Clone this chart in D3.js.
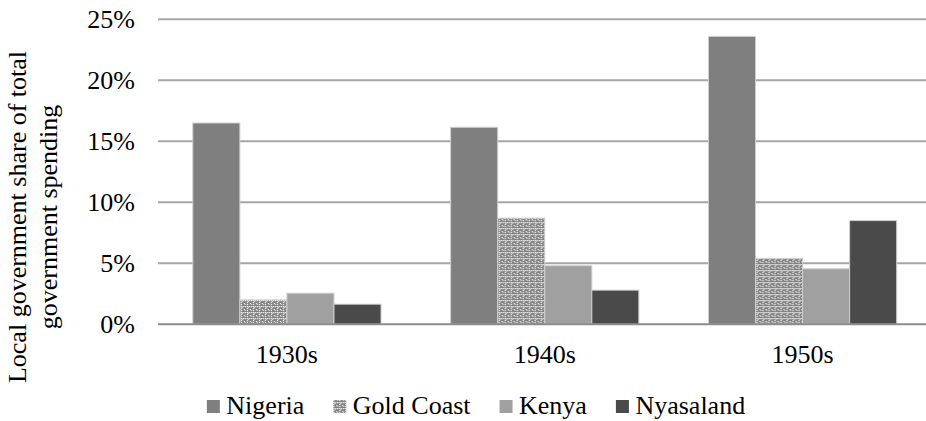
<!DOCTYPE html>
<html>
<head>
<meta charset="utf-8">
<script src="https://cdn.jsdelivr.net/npm/d3@7"></script>
<style>
  html, body { margin: 0; padding: 0; background: #fff; }
  svg { display: block; font-family: "Liberation Serif", "Times New Roman", serif; }
</style>
</head>
<body>
<div id="chart"></div>
<script>
// chart data
const decades = ["1930s", "1940s", "1950s"];
const seriesNames = ["Nigeria", "Gold Coast", "Kenya", "Nyasaland"];
const nigeria = [16.5, 16.15, 23.6];
const goldCoast = [2.0, 8.7, 5.4];
const kenya = [2.55, 4.8, 4.55];
const nyasaland = [1.65, 2.8, 8.5];
const yTicks = [0, 5, 10, 15, 20, 25];

const seriesValues = [nigeria, goldCoast, kenya, nyasaland];
const fills = ["#7f7f7f", "url(#gold-coast)", "#a0a0a0", "#4a4a4a"];

const width = 926;
const height = 421;
const plot = { left: 158, right: 931.5, top: 19.3, bottom: 324.3 };

const svg = d3.select("#chart")
  .append("svg")
  .attr("width", width)
  .attr("height", height);

// checkered texture for Gold Coast
const defs = svg.append("defs");
const pat = defs.append("pattern")
  .attr("id", "gold-coast")
  .attr("patternUnits", "userSpaceOnUse")
  .attr("width", 6)
  .attr("height", 6);
pat.append("rect").attr("width", 6).attr("height", 6).attr("fill", "#808080");
[[0, 0], [2, 0], [4, 0], [0, 2], [0, 4], [3, 3]].forEach(([px, py]) => {
  pat.append("rect")
    .attr("x", px).attr("y", py)
    .attr("width", 1.2).attr("height", 1.2)
    .attr("fill", "#ffffff");
});
pat.append("rect").attr("x", 1).attr("y", 1).attr("width", 1).attr("height", 1).attr("fill", "#d8d8d8");
pat.append("rect").attr("x", 4).attr("y", 4).attr("width", 1).attr("height", 1).attr("fill", "#d8d8d8");

const x0 = d3.scaleBand()
  .domain(decades)
  .range([plot.left, plot.right])
  .paddingInner(0.27)
  .paddingOuter(0.135);

const x1 = d3.scaleBand()
  .domain(seriesNames)
  .range([0, x0.bandwidth()]);

const y = d3.scaleLinear()
  .domain([0, 25])
  .range([plot.bottom, plot.top]);

// gridlines
svg.append("g")
  .selectAll("line")
  .data(yTicks.filter((d) => d > 0))
  .join("line")
  .attr("x1", plot.left)
  .attr("x2", plot.right)
  .attr("y1", (d) => y(d))
  .attr("y2", (d) => y(d))
  .attr("stroke", "#a6a6a6")
  .attr("stroke-width", 2);

// y tick labels
svg.append("g")
  .selectAll("text")
  .data(yTicks)
  .join("text")
  .attr("x", 135)
  .attr("y", (d) => y(d))
  .attr("dy", "0.33em")
  .attr("text-anchor", "end")
  .attr("font-size", 26)
  .attr("fill", "#000")
  .text((d) => d + "%");

// bars
const groups = svg.append("g")
  .selectAll("g")
  .data(decades)
  .join("g")
  .attr("transform", (d) => `translate(${x0(d)},0)`);

groups.selectAll("rect")
  .data((d, i) => seriesNames.map((name, s) => ({ name, s, value: seriesValues[s][i] })))
  .join("rect")
  .attr("x", (d) => x1(d.name))
  .attr("y", (d) => y(d.value))
  .attr("width", x1.bandwidth())
  .attr("height", (d) => y(0) - y(d.value))
  .attr("fill", (d) => fills[d.s])
  .attr("stroke", "#cfcfcf")
  .attr("stroke-width", 1);

// baseline
svg.append("line")
  .attr("x1", plot.left)
  .attr("x2", plot.right)
  .attr("y1", y(0))
  .attr("y2", y(0))
  .attr("stroke", "#8c8c8c")
  .attr("stroke-width", 2);

// x labels
svg.append("g")
  .selectAll("text")
  .data(decades)
  .join("text")
  .attr("x", (d) => x0(d) + x0.bandwidth() / 2)
  .attr("y", 363)
  .attr("text-anchor", "middle")
  .attr("font-size", 26)
  .attr("fill", "#000")
  .text((d) => d);

// y axis title, two lines
const title = svg.append("text")
  .attr("transform", "translate(26,217) rotate(-90)")
  .attr("text-anchor", "middle")
  .attr("font-size", 26)
  .attr("fill", "#000");
title.append("tspan").attr("x", 0).attr("y", 0).text("Local government share of total");
title.append("tspan").attr("x", 0).attr("y", 31).text("government spending");

// legend
const legend = svg.append("g");
const items = legend.selectAll("g")
  .data(seriesNames)
  .join("g");
items.append("rect")
  .attr("y", 400)
  .attr("width", 13)
  .attr("height", 13)
  .attr("fill", (d, i) => fills[i]);
items.append("text")
  .attr("x", 19.5)
  .attr("y", 414)
  .attr("font-size", 26)
  .attr("fill", "#000")
  .text((d) => d);

let cursor = 0;
items.each(function () {
  const g = d3.select(this);
  g.attr("transform", `translate(${cursor},0)`);
  cursor += 19.5 + g.select("text").node().getComputedTextLength() + 29;
});
const legendWidth = cursor - 29;
legend.attr("transform", `translate(${476 - legendWidth / 2},0)`);
</script>
</body>
</html>
